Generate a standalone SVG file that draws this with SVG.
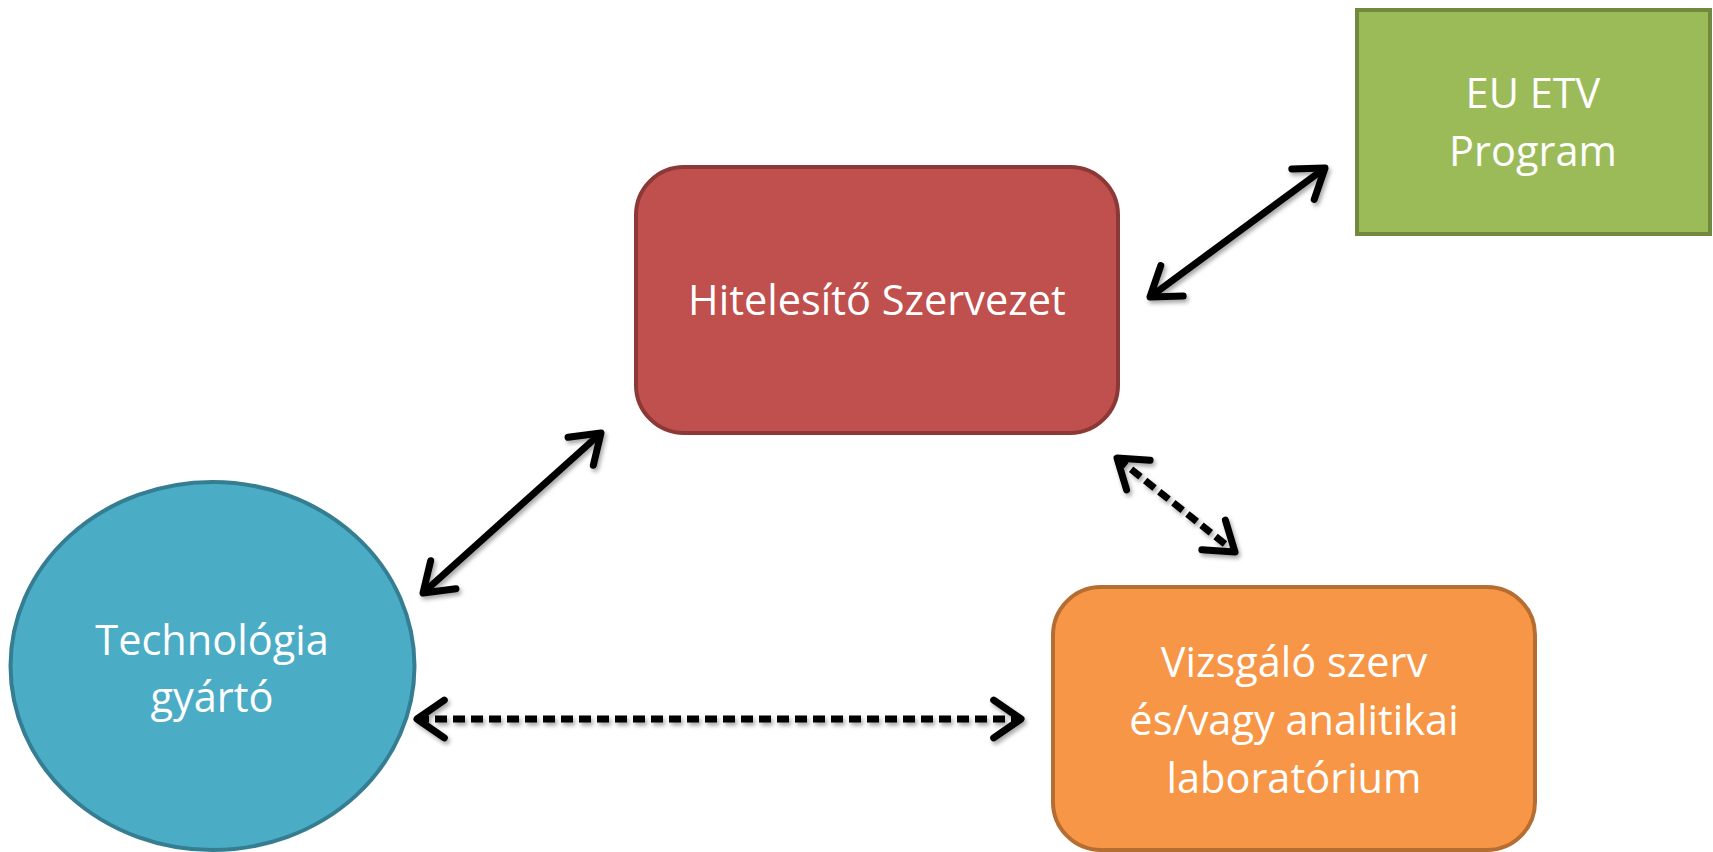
<svg xmlns="http://www.w3.org/2000/svg" width="1713" height="852" viewBox="0 0 1713 852">
  <style>
    .label { font-family: "Open Sans", "Noto Sans", "Liberation Sans", sans-serif; font-size: 41.5px; fill: #ffffff; text-anchor: middle; }
    .conn { fill: none; stroke: #000000; stroke-width: 7; }
    .dashed { stroke-dasharray: 12 6; }
    .head { fill: none; stroke: #000000; stroke-width: 1; stroke-linecap: round; stroke-linejoin: round; stroke-dasharray: none; }
  </style>
  <defs>
    <marker id="arrow" viewBox="-6 -4.5 7 9" refX="0" refY="0" markerWidth="7" markerHeight="9" markerUnits="strokeWidth" orient="auto-start-reverse">
      <path class="head" d="M -3.9 -2.7 L 0 0 L -3.9 2.7"/>
    </marker>
    <filter id="shadow" x="-20%" y="-20%" width="140%" height="140%">
      <feDropShadow dx="2" dy="3" stdDeviation="2" flood-color="#000000" flood-opacity="0.35"/>
    </filter>
  </defs>
  <rect width="1713" height="852" fill="#ffffff"/>

  <g id="node-eu-etv">
    <rect x="1357" y="10" width="353" height="224" fill="#9bbb59" stroke="#71893f" stroke-width="4"/>
    <text class="label" x="1533" y="108">EU ETV</text>
    <text class="label" x="1533" y="166">Program</text>
  </g>

  <g id="node-hitelesito">
    <rect x="636" y="167" width="482" height="266" rx="48" ry="48" fill="#c0504d" stroke="#8c3836" stroke-width="4"/>
    <text class="label" x="877" y="315">Hitelesítő Szervezet</text>
  </g>

  <g id="node-technologia">
    <ellipse cx="212.5" cy="666" rx="202" ry="184" fill="#4bacc6" stroke="#357d91" stroke-width="4"/>
    <text class="label" x="212" y="655">Technológia</text>
    <text class="label" x="212" y="712">gyártó</text>
  </g>

  <g id="node-vizsgalo">
    <rect x="1053" y="587" width="482" height="263" rx="48" ry="48" fill="#f79646" stroke="#b66d31" stroke-width="4"/>
    <text class="label" x="1294" y="677">Vizsgáló szerv</text>
    <text class="label" x="1294" y="735">és/vagy analitikai</text>
    <text class="label" x="1294" y="793">laboratórium</text>
  </g>

  <g id="connectors" filter="url(#shadow)">
    <line class="conn" x1="1150" y1="297" x2="1325" y2="168" marker-start="url(#arrow)" marker-end="url(#arrow)"/>
    <line class="conn" x1="423" y1="593" x2="601" y2="433" marker-start="url(#arrow)" marker-end="url(#arrow)"/>
    <line class="conn dashed" x1="1117" y1="458" x2="1235" y2="552" marker-start="url(#arrow)" marker-end="url(#arrow)"/>
    <line class="conn dashed" x1="417" y1="719" x2="1021" y2="719" marker-start="url(#arrow)" marker-end="url(#arrow)"/>
  </g>
</svg>
